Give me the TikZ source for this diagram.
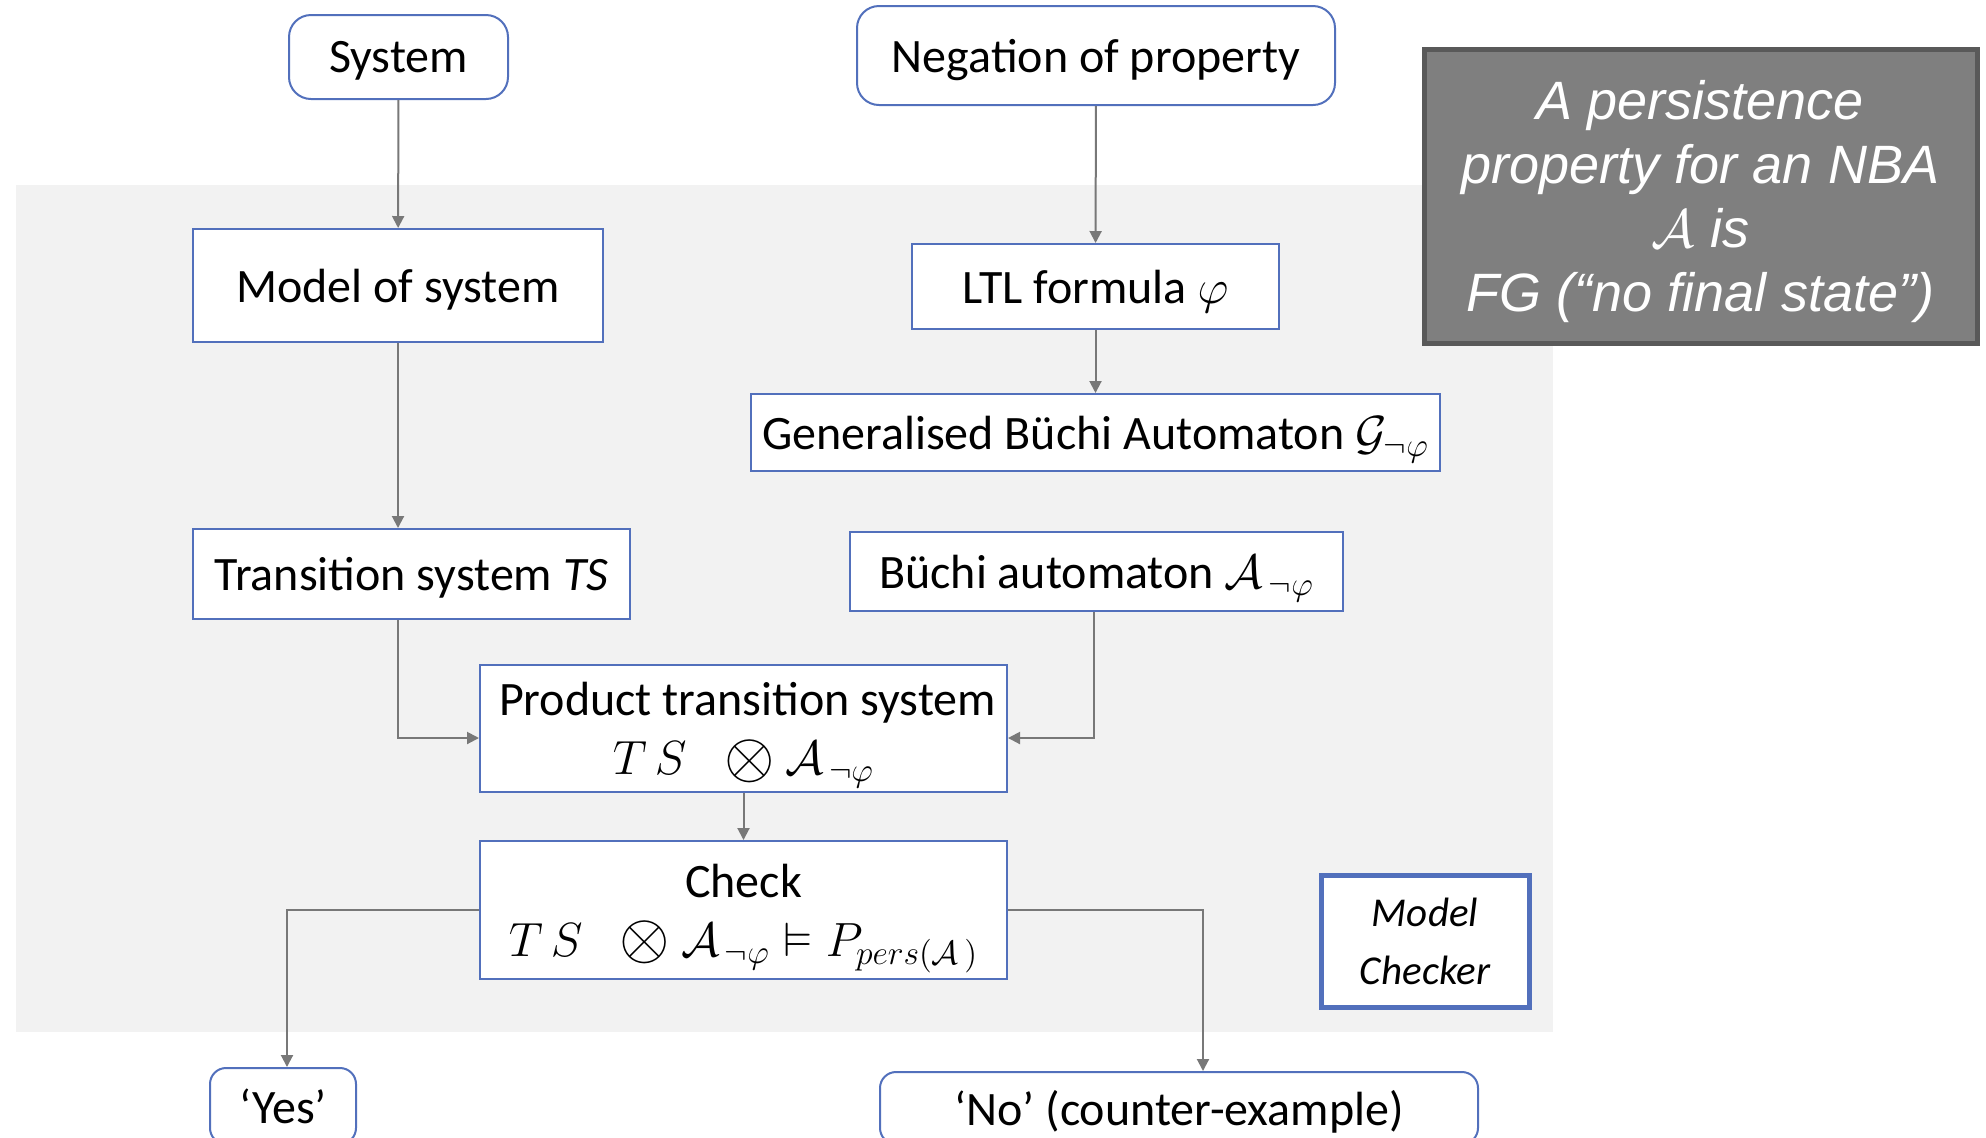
\RequirePackage{fix-cm}
\documentclass[tikz,border=0pt]{standalone}
\usepackage{amsmath,amssymb}
\usepackage{fontspec}
\setmainfont{Carlito}
\newfontfamily\notefont{Liberation Sans}
\usetikzlibrary{arrows.meta,calc}

\definecolor{boxblue}{RGB}{82,112,188}
\definecolor{linkgray}{RGB}{120,120,120}
\definecolor{panelgray}{RGB}{242,242,242}
\definecolor{noteback}{RGB}{127,127,127}
\definecolor{noteedge}{RGB}{89,89,89}

% product sign drawn a little larger, as tall as a capital
\newcommand{\prodsign}{\mathbin{\raisebox{-0.12ex}{\scalebox{1.35}{$\otimes$}}}}

\tikzset{
  stage/.style={draw=boxblue, line width=1pt, fill=white, inner sep=0pt,
    text depth=0pt, align=center, font=\fontsize{24}{29.5}\selectfont},
  terminal/.style={stage, rounded corners=11pt},
  outcome/.style={stage, rounded corners=8pt},
  flow/.style={draw=linkgray, line width=1pt,
    -{Triangle[length=6pt,width=6pt]}},
  checkerbox/.style={draw=boxblue, line width=2.5pt, fill=white, inner sep=0pt,
    align=center, font=\itshape\fontsize{20.5}{29}\selectfont},
  note/.style={draw=noteedge, line width=2.5pt, fill=noteback, text=white,
    inner sep=0pt, text depth=0pt, align=center,
    font=\notefont\itshape\fontsize{27}{32}\selectfont}
}

\begin{document}
\begin{tikzpicture}[x=0.5pt,y=-0.5pt]
  \useasboundingbox (0,0) rectangle (1986,1137);
  % model checker panel
  \fill[panelgray] (16,185) rectangle (1553,1032);

  % inputs
  \node[terminal, minimum width=109.5pt, minimum height=42pt] (sys) at (398.5,57) {System};
  \node[terminal, minimum width=239pt, minimum height=49.5pt] (neg) at (1096,55.5) {Negation of property};

  % system side
  \node[stage, minimum width=205pt, minimum height=56.5pt] (model) at (398,285.5) {Model of system};
  \node[stage, minimum width=218.5pt, minimum height=45pt] (ts) at (411.5,574) {Transition system \textit{TS}};

  % property side
  \node[stage, minimum width=183.5pt, minimum height=42.5pt] (ltl) at (1095.5,286.5) {LTL formula $\varphi$};
  \node[stage, minimum width=344.5pt, minimum height=38.5pt] (gba) at (1095.5,432.5) {Generalised Büchi Automaton $\mathcal{G}_{\neg\varphi}$};
  \node[stage, minimum width=246.5pt, minimum height=39.5pt] (nba) at (1096.5,571.5) {Büchi automaton $\mathcal{A}_{\,\neg\varphi}$};

  % product and check
  \node[stage, minimum width=263.5pt, minimum height=63.5pt] (prod) at (743.5,728.5)
    {\hspace*{4pt}Product transition system\\ $T\,S\;\;\prodsign\mathcal{A}_{\,\neg\varphi}$};
  \node[stage, minimum width=263.5pt, minimum height=69pt] (check) at (743.5,910)
    {Check\\ $T\,S\;\;\prodsign\mathcal{A}_{\,\neg\varphi}\vDash P_{pers(\mathcal{A}\,)}$};

  % outcomes
  \node[outcome, minimum width=73pt, minimum height=38pt] (yes) at (283,1106) {‘Yes’};
  \node[outcome, minimum width=299pt, minimum height=36pt] (no) at (1179,1108) {‘No’ (counter-example)};

  % labels
  \node[checkerbox, minimum width=104pt, minimum height=66pt] (mc) at (1425,941) {Model\\Checker};
  \node[note, minimum width=276.5pt, minimum height=147pt] (pers) at (1700.5,196)
    {A persistence\\property for an NBA\\$\mathcal{A}$ is\\FG (“no final state”)};

  % connectors
  \draw[flow] (sys) -- (model);
  \draw[flow] (neg) -- (ltl);
  \draw[flow] (model) -- (model |- ts.north);
  \draw[flow] (ltl) -- (gba);
  \draw[flow] (ts.south -| model.south) |- ([yshift=-4.75pt]prod.west);
  \draw[flow] ([xshift=-1.25pt]nba.south) |- ([yshift=-4.75pt]prod.east);
  \draw[flow] (prod) -- (check);
  \draw[flow] (check.west) -| ([xshift=2pt]yes.north);
  \draw[flow] (check.east) -| ([xshift=12pt]no.north);
\end{tikzpicture}
\end{document}
